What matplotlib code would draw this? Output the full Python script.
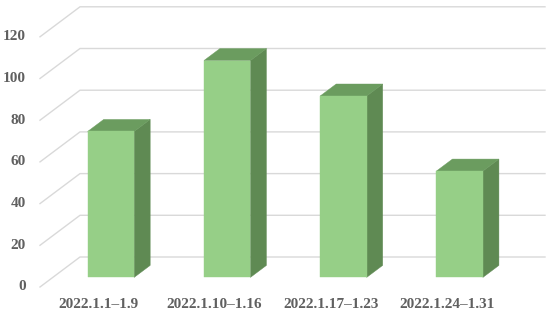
import matplotlib
matplotlib.use("Agg")
import matplotlib.pyplot as plt
from matplotlib.patches import Polygon

categories = ["2022.1.1\u20131.9", "2022.1.10\u20131.16", "2022.1.17\u20131.23", "2022.1.24\u20131.31"]
values = [70, 104, 87, 51]
ticks = [0, 20, 40, 60, 80, 100, 120]

W, H, DPI = 550, 317, 100
fig = plt.figure(figsize=(W / DPI, H / DPI), dpi=DPI)
ax = fig.add_axes([0, 0, 1, 1])
ax.axis("off")

# scale: category width in px and px per value unit
cat_px = 116.25
val_px = 2.085
x0_px, y0_px = 40.0, 287.0  # front-left floor corner in pixels
ax.set_xlim(-0.5 - x0_px / cat_px, -0.5 + (W - x0_px) / cat_px)
ax.set_ylim(-(H - y0_px) / val_px, y0_px / val_px)

DX = 40.0 / cat_px   # depth offset in category units
DY = 30.0 / val_px   # depth offset in value units
n = len(categories)

def P(x, v, z):
    return (x + z * DX, v + z * DY)

grid_c = "#d9d9d9"
for t in ticks:
    xs, ys = zip(P(-0.5, t, 0), P(-0.5, t, 1), P(n - 0.5, t, 1))
    ax.plot(xs, ys, color=grid_c, lw=1.0, zorder=1)
    ax.text(-0.5 - 14 / cat_px, t, str(t), ha="right", va="center",
            fontsize=11, fontweight="bold", family="Liberation Serif",
            color="#606060")

front_c, side_c, top_c = "#96cf87", "#5f8a53", "#6b9c5f"
bw = 0.4
z0, z1 = 0.32, 0.72
for i, v in enumerate(values):
    xl, xr = i - bw / 2, i + bw / 2
    front = [P(xl, 0, z0), P(xr, 0, z0), P(xr, v, z0), P(xl, v, z0)]
    side = [P(xr, 0, z0), P(xr, 0, z1), P(xr, v, z1), P(xr, v, z0)]
    top = [P(xl, v, z0), P(xr, v, z0), P(xr, v, z1), P(xl, v, z1)]
    for poly, c in ((side, side_c), (top, top_c), (front, front_c)):
        ax.add_patch(Polygon(poly, closed=True, facecolor=c, edgecolor=c, lw=0.3, zorder=3))
    ax.text(i, -18 / val_px, categories[i], ha="center", va="center",
            fontsize=11, fontweight="bold", family="Liberation Serif",
            color="#606060")

fig.savefig("out.png", dpi=DPI)
